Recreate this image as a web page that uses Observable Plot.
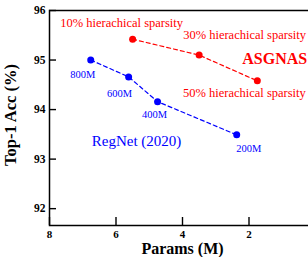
<!DOCTYPE html>
<html>
<head>
<meta charset="utf-8">
<script src="https://cdn.jsdelivr.net/npm/d3@7"></script>
<script src="https://cdn.jsdelivr.net/npm/@observablehq/plot@0.6"></script>
<style>
  html, body { margin: 0; padding: 0; background: #fff; overflow: hidden; }
  #chart { width: 308px; height: 257px; overflow: hidden; }
  #chart svg { max-width: none !important; width: 316px !important; height: 257px !important; }
  #chart svg, #chart svg text { font-family: "Liberation Serif", "Times New Roman", serif !important; }
</style>
</head>
<body>
<div id="chart"></div>
<script>
// RegNet (2020) series
const regnetParams = [6.76, 5.62, 4.75, 2.37];
const regnetAcc = [95.0, 94.66, 94.16, 93.49];
const regnetLabels = ["800M", "600M", "400M", "200M"];

// ASGNAS series
const asgnasParams = [5.5, 3.5, 1.75];
const asgnasAcc = [95.42, 95.1, 94.58];
const asgnasLabels = ["10% hierachical sparsity", "30% hierachical sparsity", "50% hierachical sparsity"];

const seriesNames = ["RegNet (2020)", "ASGNAS"];
const xTicks = [8, 6, 4, 2];
const yTicks = [92, 93, 94, 95, 96];
const xTitle = "Params (M)";
const yTitle = "Top-1 Acc (%)";

const BLUE = "#0000ff";
const RED = "#ff0000";
const FONT = "Liberation Serif";

const regnet = regnetParams.map((p, i) => ({params: p, acc: regnetAcc[i], label: regnetLabels[i]}));
const asgnas = asgnasParams.map((p, i) => ({params: p, acc: asgnasAcc[i], label: asgnasLabels[i]}));

function pointLabel(data, i, opts) {
  return Plot.text([data[i]], {x: "params", y: "acc", text: "label", lineAnchor: "middle", fontFamily: FONT, ...opts});
}

const blueLab = {fill: BLUE, fontSize: 10.5};
const redLab = {fill: RED, fontSize: 12.5};
const fmt = d => String(d);

const chart = Plot.plot({
  width: 316,
  height: 257,
  marginLeft: 49,
  marginRight: 1,
  marginTop: 10,
  marginBottom: 32,
  style: {fontFamily: FONT, background: "#fff", color: "#000", maxWidth: "none"},
  x: {domain: [8, 0]},
  y: {domain: [91.66, 96]},
  marks: [
    Plot.axisY(yTicks, {tickSize: 0, tickPadding: 4, tickFormat: fmt, fontSize: 11.5, fontWeight: "bold", fontFamily: FONT, label: null}),
    Plot.axisY(yTicks, {tickSize: -7, tickFormat: () => "", label: null, strokeWidth: 1.4}),
    Plot.axisX(xTicks, {tickSize: 0, tickPadding: 5, tickFormat: fmt, fontSize: 11, fontWeight: "bold", fontFamily: FONT, label: null}),
    Plot.axisX(xTicks, {tickSize: -8, tickFormat: () => "", label: null, strokeWidth: 1.4}),
    Plot.frame({strokeWidth: 1.5}),
    Plot.text([yTitle], {frameAnchor: "left", textAnchor: "middle", lineAnchor: "middle", rotate: -90, dx: -38.5, dy: -3, fontSize: 16.5, fontWeight: "bold", fill: "#000", fontFamily: FONT}),
    Plot.text([xTitle], {frameAnchor: "bottom", textAnchor: "middle", lineAnchor: "middle", dy: 23.6, fontSize: 16, fontWeight: "bold", fill: "#000", fontFamily: FONT}),
    Plot.line(regnet, {x: "params", y: "acc", stroke: BLUE, strokeWidth: 1.2, strokeDasharray: "4,3"}),
    Plot.line(asgnas, {x: "params", y: "acc", stroke: RED, strokeWidth: 1.2, strokeDasharray: "4,3"}),
    Plot.dot(regnet, {x: "params", y: "acc", r: 3.5, fill: BLUE}),
    Plot.dot(asgnas, {x: "params", y: "acc", r: 3.5, fill: RED}),
    pointLabel(regnet, 0, {...blueLab, dx: -8, dy: 14.6}),
    pointLabel(regnet, 1, {...blueLab, dx: -9, dy: 16.6}),
    pointLabel(regnet, 2, {...blueLab, dx: -3, dy: 12.9}),
    pointLabel(regnet, 3, {...blueLab, dx: 12, dy: 13.6}),
    pointLabel(asgnas, 0, {...redLab, dx: -11, dy: -16.3}),
    pointLabel(asgnas, 1, {...redLab, textAnchor: "start", dx: -16, dy: -20.3}),
    pointLabel(asgnas, 2, {...redLab, textAnchor: "start", dx: -74.4, dy: 12}),
    Plot.text([regnet[0]], {x: "params", y: "acc", text: () => seriesNames[0], textAnchor: "start", lineAnchor: "middle", dx: 1, dy: 81.2, fill: BLUE, fontSize: 15, fontFamily: FONT}),
    Plot.text([asgnas[2]], {x: "params", y: "acc", text: () => seriesNames[1], textAnchor: "start", lineAnchor: "middle", dx: -15, dy: -22.1, fill: RED, fontSize: 16, fontWeight: "bold", fontFamily: FONT})
  ]
});
document.getElementById("chart").appendChild(chart);
</script>
</body>
</html>
